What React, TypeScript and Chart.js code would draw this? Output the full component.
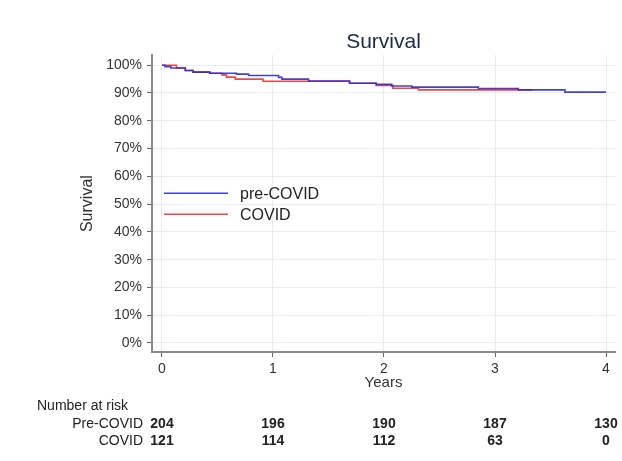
import React, { useEffect, useRef } from "react";
import { Chart, registerables } from "chart.js";

Chart.register(...registerables);

const FONT = "'Liberation Sans', Arial, Helvetica, sans-serif";

const chartTitle = "Survival";
const xTitle = "Years";
const yTitle = "Survival";
const seriesLabels = ["pre-COVID", "COVID"];
const seriesColors = ["rgba(45,45,205,0.9)", "rgba(232,40,40,0.85)"];

// Kaplan-Meier steps (years, survival %)
const preTimes = [0, 0.027, 0.08, 0.21, 0.28, 0.43, 0.67, 0.78, 1.05, 1.08, 1.32, 1.69, 1.93, 2.07, 2.25, 2.85, 3.21, 3.63, 4.0];
const preSurv = [100, 99.5, 99.0, 98.1, 97.5, 97.1, 96.8, 96.3, 95.6, 95.0, 94.3, 93.5, 93.1, 92.5, 92.1, 91.6, 91.1, 90.3, 90.3];
const covidTimes = [0, 0.13, 0.21, 0.28, 0.43, 0.54, 0.58, 0.66, 0.91, 1.69, 1.93, 2.08, 2.31, 3.33];
const covidSurv = [100, 99.0, 98.1, 97.5, 97.1, 96.5, 95.7, 95.0, 94.2, 93.5, 92.7, 91.7, 91.1, 91.0];

const xTicks = [0, 1, 2, 3, 4];
const yTicks = [0, 10, 20, 30, 40, 50, 60, 70, 80, 90, 100];

const riskHeader = "Number at risk";
const riskGroups = ["Pre-COVID", "COVID"];
const riskTimes = [0, 1, 2, 3, 4];
const riskPre = [204, 196, 190, 187, 130];
const riskCovid = [121, 114, 112, 63, 0];

const overlayPlugin = {
  id: "overlay",
  afterDraw(chart: any) {
    const ctx = chart.ctx;
    const area = chart.chartArea;
    const xs = chart.scales.x;
    ctx.save();
    // legend inside plot
    const legendY = [area.top + 138, area.top + 159];
    chart.data.datasets.forEach((ds: any, i: number) => {
      ctx.strokeStyle = ds.borderColor;
      ctx.lineWidth = 1.5;
      ctx.beginPath();
      ctx.moveTo(area.left + 12, legendY[i]);
      ctx.lineTo(area.left + 76, legendY[i]);
      ctx.stroke();
      ctx.fillStyle = "#222";
      ctx.font = `16px ${FONT}`;
      ctx.textAlign = "left";
      ctx.textBaseline = "middle";
      ctx.fillText(ds.label, area.left + 88, legendY[i] + 1);
    });
    // number at risk table
    ctx.fillStyle = "#222";
    ctx.font = `14px ${FONT}`;
    ctx.textBaseline = "middle";
    ctx.textAlign = "left";
    ctx.fillText(riskHeader, 37, area.bottom + 54);
    const rows = [riskPre, riskCovid];
    rows.forEach((row, r) => {
      const y = area.bottom + 72 + r * 17.5;
      ctx.font = `14px ${FONT}`;
      ctx.textAlign = "right";
      ctx.fillText(riskGroups[r], area.left - 9, y);
      ctx.font = `bold 14px ${FONT}`;
      ctx.textAlign = "center";
      row.forEach((v, i) => {
        ctx.fillText(String(v), xs.getPixelForValue(riskTimes[i]), y);
      });
    });
    ctx.restore();
  },
};

export default function App() {
  const ref = useRef<HTMLCanvasElement | null>(null);
  useEffect(() => {
    if (!ref.current) return;
    const mk = (t: number[], s: number[]) => t.map((x, i) => ({ x, y: s[i] }));
    const chart = new Chart(ref.current, {
      type: "line",
      data: {
        datasets: [
          {
            label: seriesLabels[0],
            data: mk(preTimes, preSurv),
            borderColor: seriesColors[0],
            borderWidth: 1.6,
            pointRadius: 0,
            stepped: true,
            fill: false,
          },
          {
            label: seriesLabels[1],
            data: mk(covidTimes, covidSurv),
            borderColor: seriesColors[1],
            borderWidth: 1.6,
            pointRadius: 0,
            stepped: true,
            fill: false,
          },
        ],
      },
      options: {
        animation: false,
        responsive: false,
        layout: { padding: { left: 78, right: 7, top: 0, bottom: 69 } },
        plugins: {
          legend: { display: false },
          tooltip: { enabled: false },
          title: {
            display: true,
            fullSize: false,
            text: chartTitle,
            color: "#1c2a48",
            font: { size: 21, family: FONT, weight: "normal" },
            padding: { top: 30, bottom: 0 },
          },
        },
        scales: {
          x: {
            type: "linear",
            min: -0.09,
            max: 4.081,
            afterBuildTicks: (s: any) => {
              s.ticks = xTicks.map((v) => ({ value: v }));
            },
            afterFit: (s: any) => {
              s.height = 40;
            },
            ticks: {
              font: { size: 14, family: FONT },
              color: "#333",
              padding: 4,
              maxRotation: 0,
              callback: (v: any) => String(v),
            },
            grid: { color: "#e9ecf2", lineWidth: 1, tickLength: 5, tickColor: "#666", drawTicks: true },
            border: { display: true, color: "#8a8a8a", width: 2 },
            title: {
              display: true,
              text: xTitle,
              color: "#333",
              font: { size: 15, family: FONT },
              padding: { top: 0, bottom: 0 },
            },
          },
          y: {
            type: "linear",
            min: -3.24,
            max: 103.6,
            afterBuildTicks: (s: any) => {
              s.ticks = yTicks.map((v) => ({ value: v }));
            },
            afterFit: (s: any) => {
              s.width = 74;
            },
            ticks: {
              font: { size: 14, family: FONT },
              color: "#333",
              padding: 5,
              callback: (v: any) => `${v}%`,
            },
            grid: { color: "#e9ecf2", lineWidth: 1, tickLength: 5, tickColor: "#666", drawTicks: true },
            border: { display: true, color: "#8a8a8a", width: 2 },
            title: {
              display: true,
              text: yTitle,
              color: "#333",
              font: { size: 16, family: FONT },
              padding: { top: 0, bottom: 0 },
            },
          },
        },
      } as any,
      plugins: [overlayPlugin],
    });
    return () => chart.destroy();
  }, []);
  return (
    <div style={{ position: "absolute", left: 0, top: 0, width: 622, height: 461, background: "#fff" }}>
      <canvas ref={ref} width={622} height={461} />
    </div>
  );
}
